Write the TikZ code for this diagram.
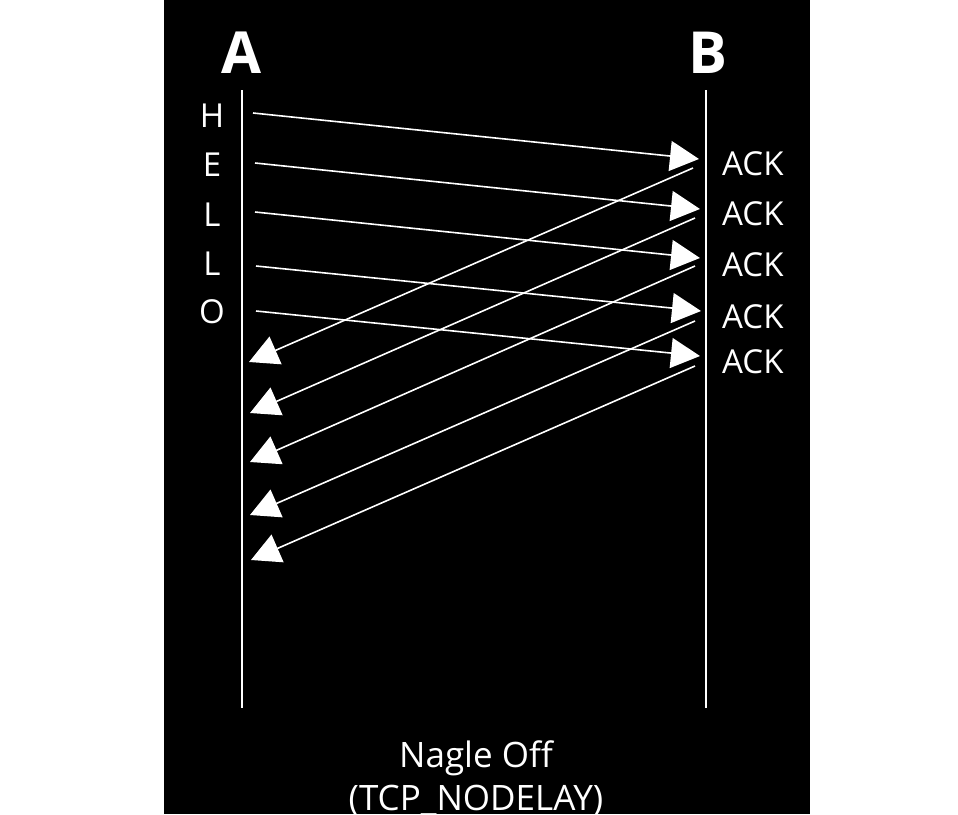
\documentclass[tikz,border=0pt]{standalone}
\usepackage{fontspec}
\setmainfont{Open Sans}
\usetikzlibrary{arrows.meta}
\begin{document}
\begin{tikzpicture}[x=1pt,y=-1pt,
  lifeline/.style={white,line width=2pt},
  msg/.style={white,line width=1.6pt,-{Triangle[length=29pt,width=30pt]}},
  lbl/.style={text=white,font=\fontsize{33}{38}\selectfont,inner sep=0pt},
  caption/.style={text=white,font=\fontsize{35}{43}\selectfont,inner sep=0pt,align=center},
  party/.style={text=white,font=\fontsize{58}{64}\selectfont\bfseries,inner sep=0pt}]
\useasboundingbox (0,0) rectangle (958,814);
\clip (0,0) rectangle (958,814);
\fill[black] (164,0) rectangle (810,814);
% parties
\node[party] (A) at (242,53) {A};
\node[party] (B) at (708,53) {B};
% lifelines
\coordinate (Atop) at (242,90);
\coordinate (Abot) at (242,708);
\coordinate (Btop) at (706,90);
\coordinate (Bbot) at (706,708);
\draw[lifeline] (Atop) -- (Abot);
\draw[lifeline] (Btop) -- (Bbot);
% letters
\node[lbl] (h) at (212,116) {H};
\node[lbl] (e) at (212,165) {E};
\node[lbl] (l1) at (212,215) {L};
\node[lbl] (l2) at (212,264) {L};
\node[lbl] (o) at (212,312) {O};
% acks
\node[lbl,anchor=west] (k1) at (722,164) {ACK};
\node[lbl,anchor=west] (k2) at (722,214) {ACK};
\node[lbl,anchor=west] (k3) at (722,265) {ACK};
\node[lbl,anchor=west] (k4) at (722,317) {ACK};
\node[lbl,anchor=west] (k5) at (722,362) {ACK};
% forward message endpoints
\coordinate (s1) at (253,113); \coordinate (t1) at (699,159);
\coordinate (s2) at (255,163); \coordinate (t2) at (700,209);
\coordinate (s3) at (255,212); \coordinate (t3) at (700,258);
\coordinate (s4) at (256,266); \coordinate (t4) at (701,311);
\coordinate (s5) at (256,311); \coordinate (t5) at (700,356);
\foreach \i in {1,...,5} {\draw[msg] (s\i) -- (t\i);}
% ack endpoints
\coordinate (u1) at (693,168); \coordinate (v1) at (249,362);
\coordinate (u2) at (695,218); \coordinate (v2) at (250,413);
\coordinate (u3) at (695,266); \coordinate (v3) at (250,462);
\coordinate (u4) at (695,321); \coordinate (v4) at (250,515);
\coordinate (u5) at (695,366); \coordinate (v5) at (251,560);
\foreach \i in {1,...,5} {\draw[msg] (u\i) -- (v\i);}
% caption
\node[caption] (cap) at (476,778) {Nagle Off\\(TCP\_NODELAY)};
\end{tikzpicture}
\end{document}
